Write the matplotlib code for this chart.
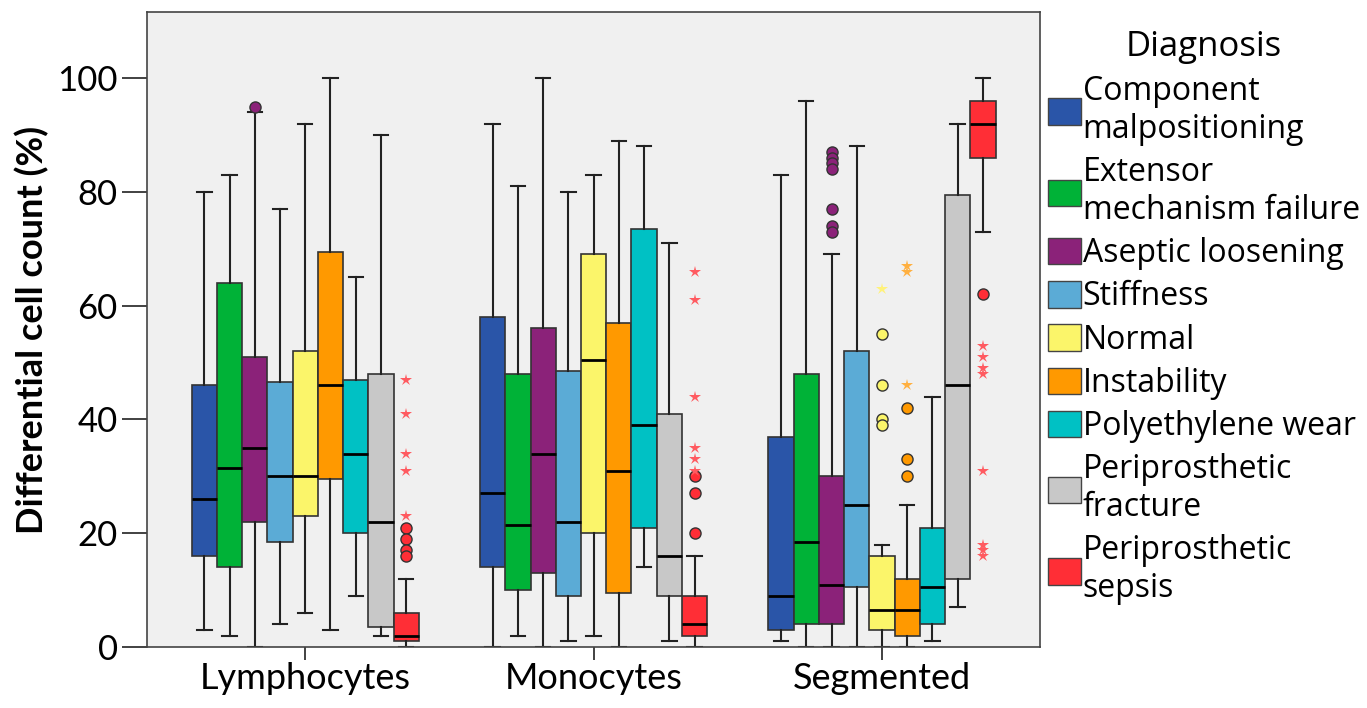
import numpy as np
import matplotlib
matplotlib.use('Agg')
from matplotlib import pyplot as plt
from matplotlib.patches import Patch

plt.rcParams['font.family'] = ['Lato', 'DejaVu Sans']

# cell types on the x axis and the diagnosis groups (one box each)
cell_types = ['Lymphocytes', 'Monocytes', 'Segmented']
diagnoses = ['Component\nmalpositioning', 'Extensor\nmechanism failure', 'Aseptic loosening',
             'Stiffness', 'Normal', 'Instability', 'Polyethylene wear',
             'Periprosthetic\nfracture', 'Periprosthetic\nsepsis']
colors = ['#2A55A8', '#00B237', '#8B2279', '#5BABD6', '#FBF56A',
          '#FF9900', '#00C1C4', '#C8C8C8', '#FF2E36']
star_colors = ['#6F8FD0', '#5FD885', '#C065B5', '#9FD0EE', '#FFF27A',
               '#FFB040', '#60E0E0', '#E0E0E0', '#FF5A60']

# box statistics, rows = cell type, columns = diagnosis
whis_lo = [[3, 2, 0, 4, 6, 3, 9, 2, 0],
           [0, 2, 0, 1, 2, 0, 14, 1, 0],
           [1, 0, 0, 0, 0, 0, 1, 7, 73]]
q1 = [[16, 14, 22, 18.5, 23, 29.5, 20, 3.5, 1],
      [14, 10, 13, 9, 20, 9.5, 21, 9, 2],
      [3, 4, 4, 10.5, 3, 2, 4, 12, 86]]
median = [[26, 31.5, 35, 30, 30, 46, 34, 22, 2],
          [27, 21.5, 34, 22, 50.5, 31, 39, 16, 4],
          [9, 18.5, 11, 25, 6.5, 6.5, 10.5, 46, 92]]
q3 = [[46, 64, 51, 46.5, 52, 69.5, 47, 48, 6],
      [58, 48, 56, 48.5, 69, 57, 73.5, 41, 9],
      [37, 48, 30, 52, 16, 12, 21, 79.5, 96]]
whis_hi = [[80, 83, 94, 77, 92, 100, 65, 90, 12],
           [92, 81, 100, 80, 83, 89, 88, 71, 16],
           [83, 96, 69, 88, 18, 25, 44, 92, 100]]

# outliers: (cell type index, diagnosis index, values)
circle_outliers = [(0, 2, [95]),
                   (0, 8, [21, 19, 17, 16]),
                   (1, 8, [30, 27, 20]),
                   (2, 2, [87, 86, 85, 84, 77, 74, 73]),
                   (2, 4, [55, 46, 40, 39]),
                   (2, 5, [42, 33, 30]),
                   (2, 8, [62])]
star_outliers = [(0, 8, [47, 41, 34, 31, 23]),
                 (1, 8, [66, 61, 44, 35, 33, 31]),
                 (2, 4, [63]),
                 (2, 5, [67, 66, 46]),
                 (2, 8, [53, 51, 49, 48, 31, 18, 17, 16])]

box_w = 0.0875
n = len(diagnoses)

def xpos(g, d):
    return g + (d - (n - 1) / 2) * box_w

fig = plt.figure(figsize=(13.67, 7.08), dpi=100)
ax = fig.add_axes([0.1075, 0.086, 0.6535, 0.897])
ax.set_facecolor('#F0F0F0')

for d in range(n):
    stats = []
    pos = []
    for g in range(len(cell_types)):
        stats.append({'whislo': whis_lo[g][d], 'q1': q1[g][d], 'med': median[g][d],
                      'q3': q3[g][d], 'whishi': whis_hi[g][d], 'fliers': []})
        pos.append(xpos(g, d))
    ax.bxp(stats, positions=pos, widths=box_w, capwidths=0.05, showfliers=False,
           patch_artist=True,
           boxprops=dict(facecolor=colors[d], edgecolor='#333333', linewidth=1.2),
           medianprops=dict(color='black', linewidth=2),
           whiskerprops=dict(color='#222222', linewidth=1.5),
           capprops=dict(color='#222222', linewidth=1.5))

for g, d, vals in circle_outliers:
    ax.plot([xpos(g, d)] * len(vals), vals, 'o', ms=8, mfc=colors[d],
            mec='#333333', mew=1, zorder=4)
for g, d, vals in star_outliers:
    ax.plot([xpos(g, d)] * len(vals), vals, '*', ms=9, color=star_colors[d],
            mew=0, zorder=4)

ax.set_xlim(-0.549, 2.549)
ax.set_ylim(0, 111.6)
ax.set_yticks([0, 20, 40, 60, 80, 100])
ax.set_xticks([0, 1, 2])
ax.set_xticklabels(cell_types)
ax.tick_params(axis='y', length=18, width=1.3, labelsize=25, pad=3, color='#333333')
ax.tick_params(axis='x', length=9, width=1.3, labelsize=26, pad=2, color='#333333')
for s in ax.spines.values():
    s.set_color('#444444')
    s.set_linewidth(1.2)
ax.set_ylabel('Differential cell count (%)', fontsize=26, fontweight='bold', labelpad=6)

handles = [Patch(facecolor=colors[d], edgecolor='#444444', label=diagnoses[d]) for d in range(n)]
leg = fig.legend(handles=handles, loc='upper left', bbox_to_anchor=(0.757, 0.975),
                 frameon=False, prop={'family': 'Open Sans', 'size': 23},
                 title='Diagnosis',
                 title_fontproperties={'family': 'Open Sans', 'size': 25},
                 handlelength=1.05, handleheight=0.9, handletextpad=0.05,
                 labelspacing=0.32, borderaxespad=0)

fig.savefig('out.png', dpi=100)
